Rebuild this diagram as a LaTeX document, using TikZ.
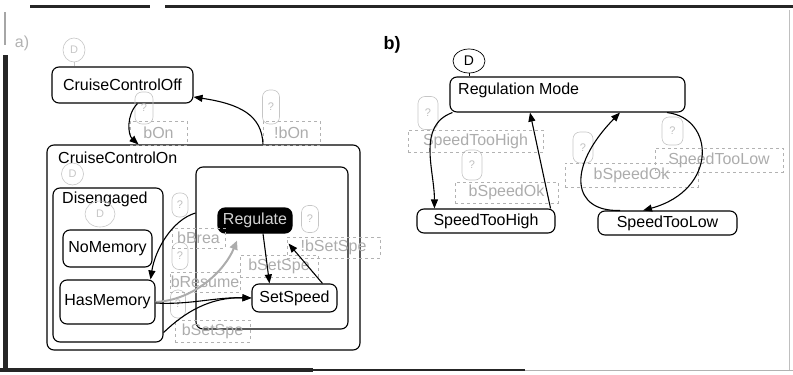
\documentclass[tikz,border=0pt]{standalone}
\usepackage{fontspec}
\setmainfont{Liberation Sans}
\usetikzlibrary{arrows.meta,calc,shapes.geometric}
\begin{document}
\begin{tikzpicture}[x=1pt,y=1pt,
  every node/.style={font=\fontsize{16}{18}\selectfont, inner sep=0pt},
  state/.style={draw, line width=1.1pt, rounded corners=7pt},
  qmark/.style={draw=gray!45, line width=0.6pt, rounded corners=7pt, text=gray!50, font=\fontsize{11}{13}\selectfont},
  dcirc/.style={ellipse, draw=gray!45, line width=0.6pt, text=gray!45, font=\fontsize{11}{13}\selectfont},
  lbl/.style={draw=gray!60, dashed, line width=0.6pt, text=gray!65},
  conn/.style={-{Triangle[length=9pt,width=7pt]}, line width=1.1pt},
  conngray/.style={-{Triangle[length=9pt,width=8pt]}, line width=2pt, draw=gray!65},
  scanline/.style={draw=black!85}
]
\useasboundingbox (0,0) rectangle (793,-375);

% scan frame
\draw[scanline, line width=3pt] (30,-6) -- (150,-6);
\draw[scanline, line width=3pt] (165,-6) -- (793,-6);
\draw[scanline, line width=5pt] (5.5,-55) -- (5.5,-372);
\draw[draw=gray!70, line width=2pt] (5,-12) -- (5,-45);
\draw[scanline, line width=3.5pt] (0,-370) -- (313,-370);
\draw[scanline, line width=1.5pt] (313,-370) -- (525,-370);
\draw[draw=gray!60, line width=0.8pt] (525,-370) -- (793,-370);
\draw[draw=gray!50, line width=0.6pt] (789,-10) -- (789,-370);

% ---------- panel a ----------
\node[text=gray!60] (la) at (22,-43) {a)};
\node[state, minimum width=141, minimum height=36] (off) at (122.5,-85) {CruiseControlOff};
\node[state, minimum width=313, minimum height=205] (on) at (203.5,-247.5) {};
\node[anchor=west] (ontxt) at (58,-158) {CruiseControlOn};
\node[state, minimum width=110, minimum height=154] (dis) at (108,-265) {};
\node[anchor=west] (distxt) at (62,-199) {Disengaged};
\node[state, minimum width=89, minimum height=37] (nm) at (107.5,-248.5) {NoMemory};
\node[state, minimum width=95, minimum height=44] (hm) at (107.5,-302) {HasMemory};
\node[state, minimum width=152, minimum height=162] (grp) at (272,-248) {};
\node[state, fill=black, text=gray!35, minimum width=74, minimum height=25] (reg) at (255,-220.5) {Regulate};
\node[state, minimum width=85, minimum height=28] (ss) at (294.5,-298) {SetSpeed};

\node[dcirc, minimum width=22, minimum height=24] (d1) at (74,-50) {D};
\node[dcirc, minimum width=22, minimum height=22] (d2) at (72.5,-174) {D};
\node[dcirc, minimum width=30, minimum height=26] (d3) at (100,-214) {D};
\draw[gray!45, line width=0.6pt] (d1.south) -- (d1.south |- off.north);

\node[qmark, minimum width=18, minimum height=32] (o1) at (144,-108) {?};
\node[qmark, minimum width=17, minimum height=34] (o2) at (271,-107) {?};
\node[qmark, minimum width=16, minimum height=24] (o3) at (180,-205) {?};
\node[qmark, minimum width=16, minimum height=27] (o4) at (180,-256) {?};
\node[qmark, minimum width=15, minimum height=28] (o5) at (178,-304) {?};
\node[qmark, minimum width=17, minimum height=27] (o6) at (310,-219) {?};

\node[lbl, minimum width=57, minimum height=24] (lbon) at (158.5,-133) {bOn};
\node[lbl, minimum width=57, minimum height=24] (lnbon) at (291.5,-133) {!bOn};
\node[lbl, minimum width=53, minimum height=20] (lbrea) at (198.5,-238) {bBrea};
\node[lbl, minimum width=70, minimum height=20] (lres) at (205,-282) {bResume};
\node[lbl, minimum width=78, minimum height=22] (lss1) at (279,-266) {bSetSpe};
\node[lbl, minimum width=93, minimum height=21] (lss2) at (333.5,-247.5) {!bSetSpe};
\node[lbl, minimum width=75, minimum height=22] (lss3) at (212.5,-331) {bSetSpe};

\draw[conn] ([xshift=15]off.south) .. controls (126,-115) and (128,-135) .. ([xshift=-65]on.north);
\draw[conn] ([xshift=59.5]on.north) .. controls (262,-115) and (240,-104) .. ([yshift=-12]off.east);
\draw[conn] ([yshift=35]grp.west) .. controls (172,-220) and (155,-250) .. ([xshift=-5]hm.north east);
\draw[conngray] (hm.east) .. controls (195,-300) and (225,-270) .. ([xshift=-18,yshift=-7]reg.south);
\draw[conn] ([yshift=-1]hm.east) .. controls (190,-305) and (215,-297) .. (ss.west);
\draw[conn] ([yshift=10]dis.south east) .. controls (185,-312) and (210,-297) .. (ss.west);
\draw[conn] ([xshift=8]reg.south) -- ([xshift=-25]ss.north);
\draw[conn] ([xshift=28]ss.north) -- ([xshift=-4,yshift=-10]reg.south east);

% ---------- panel b ----------
\node[font=\bfseries\fontsize{18}{20}\selectfont] (lb) at (392,-45) {b)};
\node[state, minimum width=235, minimum height=35] (rm) at (567.5,-94.5) {};
\node[anchor=west] (rmtxt) at (458,-90) {Regulation Mode};
\node[state, minimum width=138, minimum height=24] (sth) at (486,-221) {SpeedTooHigh};
\node[state, minimum width=139, minimum height=24] (stl) at (667.5,-223) {SpeedTooLow};
\node[ellipse, draw, line width=0.7pt, minimum width=32, minimum height=24, font=\fontsize{14}{16}\selectfont] (db) at (469,-61) {D};
\draw[line width=0.7pt] (db.south) -- (db.south |- rm.north);

\node[qmark, minimum width=20, minimum height=33] (ob1) at (428,-113) {?};
\node[qmark, minimum width=20, minimum height=30] (ob2) at (472,-165) {?};
\node[qmark, minimum width=20, minimum height=31] (ob3) at (583,-147.5) {?};
\node[qmark, minimum width=21, minimum height=28] (ob4) at (672.5,-131) {?};

\node[lbl, minimum width=135, minimum height=22] (lsth) at (475.5,-141) {SpeedTooHigh};
\node[lbl, minimum width=103, minimum height=21] (lok1) at (506.5,-192.5) {bSpeedOk};
\node[lbl, minimum width=133, minimum height=24] (lok2) at (631.5,-175) {bSpeedOk};
\node[lbl, minimum width=128, minimum height=24] (lstl) at (719,-160) {SpeedTooLow};

\draw[conn] ([xshift=3]rm.south west) to[out=200,in=90] ([xshift=18]sth.north west);
\draw[conn] ([xshift=-5]sth.north east) -- ([xshift=-37.5]rm.south);
\draw[conn] ([xshift=-47.5]stl.north) .. controls (572,-212) and (566,-168) .. ([xshift=52.5]rm.south);
\draw[conn] ([xshift=99.5]rm.south) .. controls (715,-118) and (718,-190) .. ([xshift=-24.5]stl.north);
\end{tikzpicture}
\end{document}
